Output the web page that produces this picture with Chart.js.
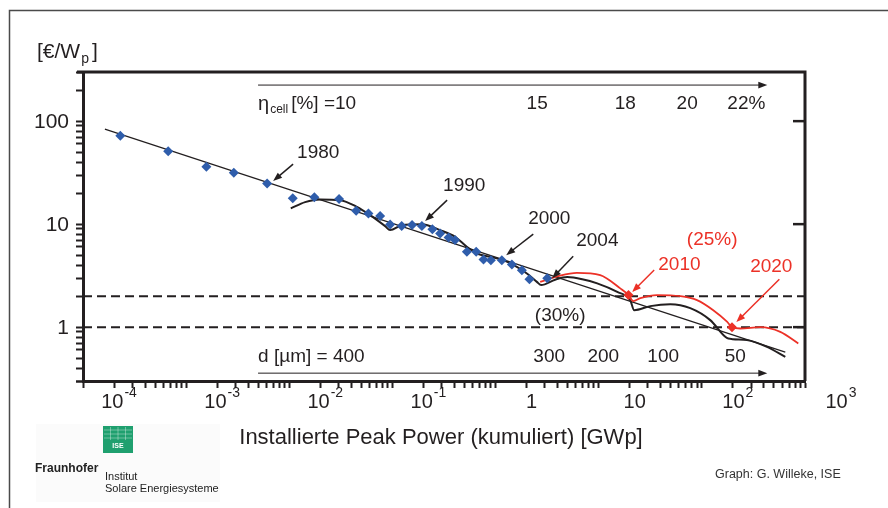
<!DOCTYPE html>
<html>
<head>
<meta charset="utf-8">
<title>PV Lernkurve</title>
<script src="https://cdn.jsdelivr.net/npm/chart.js@4.4.1/dist/chart.umd.min.js"></script>
<style>
    html, body { margin: 0; padding: 0; background: #fff; }
    #wrap { width: 888px; height: 508px; }
</style>
</head>
<body>
<div id="wrap"><canvas id="learningChart" width="888" height="508"></canvas></div>
<script>
// ===========================
// Data: installed peak power [GWp] vs. module price [€/Wp]
// ===========================
const histPower = [2.3e-4, 6.7e-4, 1.57e-3, 2.9e-3, 6.1e-3, 0.0108, 0.0175, 0.0304, 0.0445, 0.0585,
    0.076, 0.095, 0.123, 0.155, 0.193, 0.244, 0.29, 0.35, 0.405, 0.527,
    0.649, 0.764, 0.90, 1.15, 1.44, 1.80, 2.13, 3.17];
const histPrice = [72, 51, 36, 31.5, 24.8, 17.8, 18.2, 17.5, 13.5, 12.7,
    12.0, 9.9, 9.6, 9.8, 9.6, 8.9, 8.1, 7.4, 7.0, 5.4,
    5.4, 4.54, 4.47, 4.47, 4.06, 3.57, 2.92, 2.99];

// learning curve (straight line in log-log)
const trendPower = [1.63e-4, 644];
const trendPrice = [83.6, 0.572];

// scenario with efficiency steps (black)
const stepPower = [0.01034, 0.01423, 0.01989, 0.0311, 0.0452, 0.0608, 0.085, 0.095, 0.1234, 0.1929,
    0.290, 0.4056, 0.5266, 0.6586, 0.886, 1.185, 1.609, 2.012, 2.515, 2.769,
    3.784, 4.95, 6.92, 9.67, 15.12, 20.2, 22.1, 31.6, 49.4, 77.2,
    120.6, 168.7, 180.3, 273.7, 428, 644];
const stepPrice = [14.2, 16.36, 17.37, 17.1, 14.72, 12.23, 9.56, 8.75, 9.78, 10.0,
    8.75, 7.53, 6.02, 5.19, 4.81, 4.47, 3.85, 3.32, 2.75, 2.56,
    2.89, 3.06, 2.92, 2.66, 2.20, 1.83, 1.46, 1.60, 1.67, 1.53,
    1.17, 0.805, 0.777, 0.748, 0.644, 0.515];

// target path (red)
const targetPower = [2.708, 4.05, 6.15, 10.34, 16.17, 19.45, 21.6, 25.3, 36.7, 61.7,
    89.7, 129, 175.2, 196, 236, 368.5, 576, 861];
const targetPrice = [2.75, 3.13, 3.37, 3.20, 2.38, 2.05, 1.79, 1.91, 2.05, 2.0,
    1.83, 1.46, 1.13, 1.0, 0.97, 1.0, 0.90, 0.695];

// milestones 2010 / 2020
const milestonePower = [19.45, 196];
const milestonePrice = [2.05, 1.0];

// dashed price levels
const levelPrices = [2, 1];

// axis ticks
const xTickValues = [1e-4, 1e-3, 1e-2, 1e-1, 1, 10, 100, 1000];
const xTickBase = ['10', '10', '10', '10', '1', '10', '10', '10'];
const xTickExp = ['-4', '-3', '-2', '-1', '', '', '2', '3'];
const yTickValues = [1, 10, 100];
const yTickLabels = ['1', '10', '100'];

// cell efficiency and wafer thickness scales
const etaLabels = ['15', '18', '20', '22%'];
const etaPower = [2.53, 18.1, 72, 270];
const thickLabels = ['300', '200', '100', '50'];
const thickPower = [3.31, 11.06, 42.2, 211];

const toPoints = (xs, ys) => xs.map((x, i) => ({ x: x, y: ys[i] }));

const INK = '#231f20';
const RED = '#ec3127';
const BLUE = '#2f5dab';
const FONT = '"Liberation Sans", Arial, Helvetica, sans-serif';

// ===========================
// Annotations (data coordinates)
// ===========================
const yearNotes = [
    { text: '1980', at: [0.0119, 48.9], from: [0.01089, 38.2], to: [6.97e-3, 26.2], color: INK },
    { text: '1990', at: [0.31, 23.4], from: [0.339, 17.1], to: [0.2075, 10.7], color: INK },
    { text: '2000', at: [2.07, 11.4], from: [2.32, 8.0], to: [1.267, 5.0], color: INK },
    { text: '2004', at: [6.05, 6.84], from: [5.66, 4.89], to: [3.54, 2.99], color: INK },
    { text: '2010', at: [37.8, 4.0], from: [34.5, 3.58], to: [21.1, 2.19], color: RED },
    { text: '2020', at: [294, 3.82], from: [564, 2.92], to: [216, 1.12], color: RED }
];

function arrow(ctx, x1, y1, x2, y2, color, width, head) {
    const a = Math.atan2(y2 - y1, x2 - x1);
    ctx.strokeStyle = color;
    ctx.fillStyle = color;
    ctx.lineWidth = width;
    ctx.beginPath();
    ctx.moveTo(x1, y1);
    ctx.lineTo(x2 - head * 0.8 * Math.cos(a), y2 - head * 0.8 * Math.sin(a));
    ctx.stroke();
    const bx = x2 - head * Math.cos(a), by = y2 - head * Math.sin(a);
    const w = head * 0.38;
    ctx.beginPath();
    ctx.moveTo(x2, y2);
    ctx.lineTo(bx + w * Math.sin(a), by - w * Math.cos(a));
    ctx.lineTo(bx - w * Math.sin(a), by + w * Math.cos(a));
    ctx.closePath();
    ctx.fill();
}

const decorPlugin = {
    id: 'decor',
    beforeDraw(chart) {
        const ctx = chart.ctx;
        ctx.save();
        ctx.fillStyle = '#fff';
        ctx.fillRect(0, 0, chart.width, chart.height);
        // outer frame (top + left)
        ctx.strokeStyle = '#4a4a4a';
        ctx.lineWidth = 1.5;
        ctx.beginPath();
        ctx.moveTo(9.5, chart.height);
        ctx.lineTo(9.5, 10.5);
        ctx.lineTo(chart.width, 10.5);
        ctx.stroke();
        ctx.restore();
    },
    afterDraw(chart) {
        const ctx = chart.ctx;
        const xs = chart.scales.x, ys = chart.scales.y;
        const { left, right, top, bottom } = chart.chartArea;
        const px = v => xs.getPixelForValue(v);
        const py = v => ys.getPixelForValue(v);
        ctx.save();

        // top and right frame of the plot
        ctx.strokeStyle = INK;
        ctx.lineWidth = 3;
        ctx.beginPath();
        ctx.moveTo(left - 6, top);
        ctx.lineTo(right, top);
        ctx.lineTo(right, bottom);
        ctx.stroke();
        ctx.lineWidth = 2.5;
        yTickValues.forEach(v => {
            ctx.beginPath();
            ctx.moveTo(right - 12, py(v));
            ctx.lineTo(right, py(v));
            ctx.stroke();
        });

        // y tick labels
        ctx.fillStyle = INK;
        ctx.font = '21px ' + FONT;
        ctx.textAlign = 'right';
        ctx.textBaseline = 'middle';
        yTickValues.forEach((v, i) => ctx.fillText(yTickLabels[i], left - 14, py(v) + 1));

        // x tick labels (with exponent), set right of the decade tick as in the original
        ctx.textAlign = 'left';
        xTickValues.forEach((v, i) => {
            ctx.font = '20px ' + FONT;
            const wb = ctx.measureText(xTickBase[i]).width;
            ctx.font = '14px ' + FONT;
            const we = xTickExp[i] ? ctx.measureText(xTickExp[i]).width + 1 : 0;
            const cx = px(v) + 36;
            const x0 = cx - (wb + we) / 2;
            ctx.font = '20px ' + FONT;
            ctx.fillText(xTickBase[i], x0, bottom + 21);
            if (xTickExp[i]) {
                ctx.font = '14px ' + FONT;
                ctx.fillText(xTickExp[i], x0 + wb + 1, bottom + 12);
            }
        });

        // axis titles
        ctx.font = '22px ' + FONT;
        ctx.textAlign = 'center';
        ctx.fillText('Installierte Peak Power (kumuliert) [GWp]', (left + right) / 2 - 3, bottom + 57);
        ctx.textAlign = 'left';
        ctx.font = '21px ' + FONT;
        ctx.fillText('[€/W', 37, 52);
        const wUnit = ctx.measureText('[€/W').width;
        ctx.font = '14px ' + FONT;
        ctx.fillText('p', 37 + wUnit + 1, 59);
        const wSub = ctx.measureText('p').width;
        ctx.font = '21px ' + FONT;
        ctx.fillText(']', 37 + wUnit + wSub + 4, 52);

        // efficiency scale (top arrow)
        const etaY = 224, etaTextY = 146;
        arrow(ctx, px(4.98e-3), py(etaY), px(431), py(etaY), INK, 1, 9);
        ctx.font = '20px ' + FONT;
        ctx.fillText('η', px(4.98e-3), py(etaTextY));
        let wx = px(4.98e-3) + ctx.measureText('η').width + 1;
        ctx.font = '12px ' + FONT;
        ctx.fillText('cell', wx, py(etaTextY) + 5);
        wx += ctx.measureText('cell').width + 3;
        ctx.font = '19px ' + FONT;
        ctx.fillText('[%] =10', wx, py(etaTextY));
        ctx.textAlign = 'center';
        etaLabels.forEach((t, i) => ctx.fillText(t, px(etaPower[i]), py(etaTextY)));

        // wafer thickness scale (bottom arrow)
        const dY = 0.3576, dTextY = 0.511;
        arrow(ctx, px(4.98e-3), py(dY), px(431), py(dY), INK, 1, 9);
        ctx.textAlign = 'left';
        ctx.fillText('d [µm] = 400', px(4.98e-3), py(dTextY));
        ctx.textAlign = 'center';
        thickLabels.forEach((t, i) => ctx.fillText(t, px(thickPower[i]), py(dTextY)));

        // efficiency notes
        ctx.fillText('(30%)', px(4.23), py(1.279));
        ctx.fillStyle = RED;
        ctx.fillText('(25%)', px(126), py(7.0));

        // year notes with arrows
        yearNotes.forEach(n => {
            ctx.font = '19px ' + FONT;
            ctx.textAlign = 'left';
            ctx.fillStyle = n.color;
            ctx.fillText(n.text, px(n.at[0]), py(n.at[1]));
            arrow(ctx, px(n.from[0]), py(n.from[1]), px(n.to[0]), py(n.to[1]), n.color, 1.5, 9);
        });

        // Fraunhofer ISE logo
        ctx.fillStyle = '#fbfbfb';
        ctx.fillRect(36, 424, 184, 78);
        ctx.fillStyle = '#1fa06f';
        ctx.fillRect(103, 426, 30, 27);
        ctx.strokeStyle = 'rgba(255,255,255,0.35)';
        ctx.lineWidth = 1;
        for (let i = 1; i < 4; i++) {
            ctx.beginPath();
            ctx.moveTo(103 + i * 7.5, 427);
            ctx.lineTo(103 + i * 7.5, 440);
            ctx.moveTo(104, 426 + i * 4);
            ctx.lineTo(132, 426 + i * 4);
            ctx.stroke();
        }
        ctx.fillStyle = '#fff';
        ctx.font = 'bold 7px ' + FONT;
        ctx.textAlign = 'center';
        ctx.fillText('ISE', 118, 446);
        ctx.fillStyle = '#222';
        ctx.textAlign = 'left';
        ctx.font = 'bold 12px ' + FONT;
        ctx.fillText('Fraunhofer', 35, 469);
        ctx.font = '11px ' + FONT;
        ctx.fillText('Institut', 105, 477);
        ctx.fillText('Solare Energiesysteme', 105, 489);

        // credit
        ctx.fillStyle = '#333';
        ctx.font = '12.5px ' + FONT;
        ctx.fillText('Graph: G. Willeke, ISE', 715, 475);
        ctx.restore();
    }
};

// ===========================
// Chart Configuration
// ===========================
const keepWholeTicks = scale => {
    scale.ticks = scale.ticks.filter(t => {
        const m = t.value / Math.pow(10, Math.floor(Math.log10(t.value) + 1e-9));
        return Math.abs(m - Math.round(m)) < 1e-6;
    });
};

const levelSets = levelPrices.map(p => ({
    data: [{ x: 1e-4, y: p }, { x: 1e3, y: p }],
    borderColor: INK,
    borderWidth: 2,
    borderDash: [9, 5],
    pointRadius: 0,
    order: 6
}));

const ctx = document.getElementById('learningChart').getContext('2d');
const learningChart = new Chart(ctx, {
    type: 'line',
    data: {
        datasets: [
            ...levelSets,
            {
                label: 'Lernkurve',
                data: toPoints(trendPower, trendPrice),
                borderColor: INK,
                borderWidth: 1.2,
                pointRadius: 0,
                order: 5
            },
            {
                label: 'Szenario',
                data: toPoints(stepPower, stepPrice),
                borderColor: INK,
                borderWidth: 2,
                pointRadius: 0,
                cubicInterpolationMode: 'monotone',
                order: 4
            },
            {
                label: 'Ziel',
                data: toPoints(targetPower, targetPrice),
                borderColor: RED,
                borderWidth: 1.8,
                pointRadius: 0,
                cubicInterpolationMode: 'monotone',
                order: 3
            },
            {
                label: 'Marktpreise',
                data: toPoints(histPower, histPrice),
                showLine: false,
                pointStyle: 'rectRot',
                pointRadius: 5,
                pointBackgroundColor: BLUE,
                pointBorderColor: BLUE,
                pointBorderWidth: 0,
                order: 2
            },
            {
                label: 'Meilensteine',
                data: toPoints(milestonePower, milestonePrice),
                showLine: false,
                pointStyle: 'rectRot',
                pointRadius: 5,
                pointBackgroundColor: RED,
                pointBorderColor: RED,
                pointBorderWidth: 0,
                order: 1
            }
        ]
    },
    options: {
        responsive: false,
        animation: false,
        devicePixelRatio: 1,
        layout: { padding: { left: 76, right: 83, top: 72, bottom: 120 } },
        plugins: {
            legend: { display: false },
            tooltip: { enabled: false }
        },
        scales: {
            x: {
                type: 'logarithmic',
                min: 1e-4,
                max: 1e3,
                afterBuildTicks: keepWholeTicks,
                ticks: { display: false },
                grid: {
                    drawOnChartArea: false,
                    drawTicks: true,
                    tickLength: 7,
                    tickWidth: 2,
                    tickColor: INK
                },
                border: { display: true, color: INK, width: 3 }
            },
            y: {
                type: 'logarithmic',
                min: 0.3,
                max: 300,
                afterBuildTicks: keepWholeTicks,
                ticks: { display: false },
                grid: {
                    drawOnChartArea: false,
                    drawTicks: true,
                    tickLength: 7,
                    tickWidth: 2,
                    tickColor: INK
                },
                border: { display: true, color: INK, width: 3 }
            }
        }
    },
    plugins: [decorPlugin]
});
</script>
</body>
</html>
